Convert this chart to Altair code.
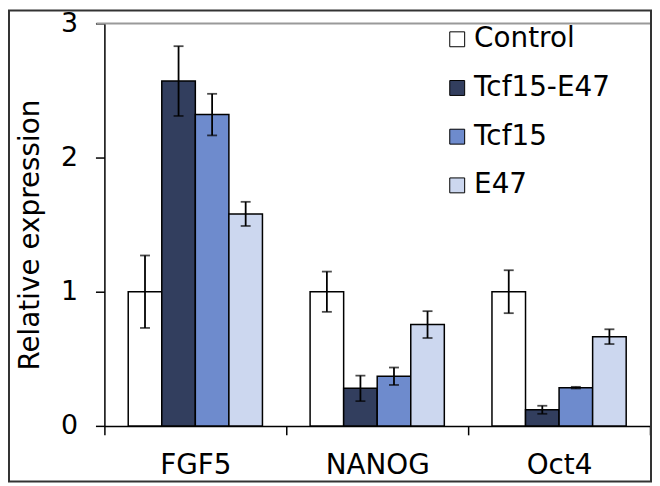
import altair as alt
import pandas as pd

genes = ["FGF5", "NANOG", "Oct4"]
groups = ["Control", "Tcf15-E47", "Tcf15", "E47"]
colors = ["#ffffff", "#323e5e", "#6e8bcd", "#ccd7ef"]

values = {
    "Control":   [1.00, 1.00, 1.00],
    "Tcf15-E47": [2.57, 0.28, 0.12],
    "Tcf15":     [2.32, 0.37, 0.285],
    "E47":       [1.58, 0.755, 0.665],
}
errors = {
    "Control":   [0.27, 0.15, 0.16],
    "Tcf15-E47": [0.26, 0.095, 0.03],
    "Tcf15":     [0.155, 0.065, 0.006],
    "E47":       [0.09, 0.10, 0.055],
}

rows = []
for g in groups:
    for i, gene in enumerate(genes):
        v = values[g][i]
        e = errors[g][i]
        rows.append({"gene": gene, "group": g, "value": v, "lo": v - e, "hi": v + e})
df = pd.DataFrame(rows)

FONT = "DejaVu Sans"
W, H = 549, 405
TOP = 14

x_enc = alt.X("gene:N", sort=genes, title=None,
              scale=alt.Scale(paddingInner=0, paddingOuter=0),
              axis=alt.Axis(labelAngle=0, labelFontSize=28, labelFont=FONT, labelColor="black",
                            labelPadding=17, tickSize=9, tickBand="extent", tickColor="black",
                            tickWidth=1.5, domainColor="black", domainWidth=1.5))
xoff = alt.XOffset("group:N", sort=groups, scale=alt.Scale(paddingInner=0, paddingOuter=0.71))
y_scale = alt.Scale(domain=[0, 3], nice=False)

base = alt.Chart(df)

bars = base.mark_bar(stroke="black", strokeWidth=1.5).encode(
    x=x_enc,
    xOffset=xoff,
    y=alt.Y("value:Q", scale=y_scale, title="Relative expression",
            axis=alt.Axis(values=[0, 1, 2, 3], format="d", labelFontSize=27, labelFont=FONT,
                          labelColor="black", labelPadding=18, tickSize=9, tickColor="black",
                          tickWidth=1.5, domainColor="black", domainWidth=1.5, grid=False,
                          titleFontSize=28, titleFont=FONT, titleFontWeight="normal",
                          titleColor="black", titleAngle=-90, titleX=-66, titleY=H / 2 + 10,
                          titleAlign="center", titleBaseline="alphabetic")),
    color=alt.Color("group:N", sort=groups, scale=alt.Scale(domain=groups, range=colors),
                    legend=alt.Legend(title=None, orient="none", legendX=341, legendY=2,
                                      symbolType="square", symbolSize=225,
                                      symbolStrokeColor="black", symbolStrokeWidth=1,
                                      symbolOpacity=1, labelFontSize=28, labelFont=FONT,
                                      labelColor="black", labelOffset=3, rowPadding=21,
                                      padding=0)),
)

err = base.mark_rule(color="black", strokeWidth=1.8).encode(
    x=alt.X("gene:N", sort=genes), xOffset=xoff,
    y=alt.Y("lo:Q", scale=y_scale), y2="hi:Q",
)
cap_lo = base.mark_tick(color="black", thickness=1.8, size=10).encode(
    x=alt.X("gene:N", sort=genes), xOffset=xoff, y=alt.Y("lo:Q", scale=y_scale),
)
cap_hi = base.mark_tick(color="black", thickness=1.8, size=10).encode(
    x=alt.X("gene:N", sort=genes), xOffset=xoff, y=alt.Y("hi:Q", scale=y_scale),
)

top_line = alt.Chart(pd.DataFrame({"v": [3]})).mark_rule(color="#9a9a9a", strokeWidth=2).encode(
    y=alt.Y("v:Q", scale=y_scale), x=alt.value(-8), x2=alt.value(W),
)

frame = alt.Chart(pd.DataFrame({"v": [0]})).mark_rect(
    fill=None, fillOpacity=0, stroke="#333333", strokeWidth=2, clip=False
).encode(
    x=alt.value(-96), x2=alt.value(W + 1), y=alt.value(-TOP + 1), y2=alt.value(H + 56),
)

chart = alt.layer(top_line, bars, err, cap_lo, cap_hi, frame).properties(
    width=W, height=H,
    autosize=alt.AutoSizeParams(type="none"),
    padding={"left": 97, "top": TOP, "right": 2, "bottom": 57},
    background="white",
).configure_view(stroke=None)

chart.save("out.html", embed_options={"renderer": "svg", "actions": False})
